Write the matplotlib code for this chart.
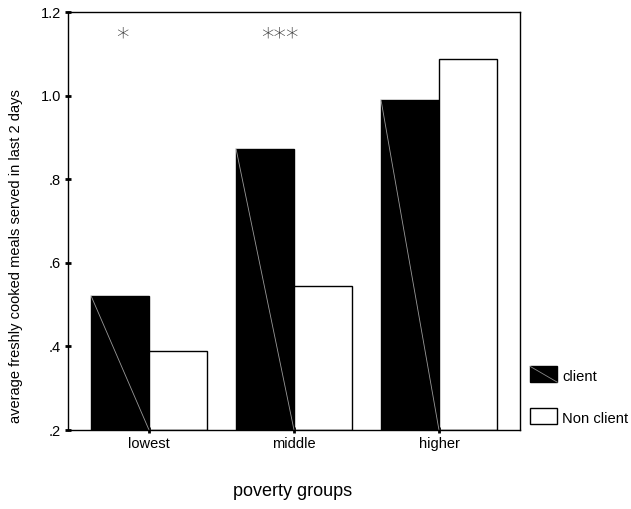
import matplotlib
matplotlib.use('Agg')
import matplotlib.pyplot as plt
import numpy as np
from matplotlib.patches import Rectangle
from matplotlib.lines import Line2D
from matplotlib.legend_handler import HandlerBase

plt.rcParams['font.family'] = ['Liberation Sans', 'DejaVu Sans']

# data
groups = ['lowest', 'middle', 'higher']
client = [0.521, 0.873, 0.990]
non_client = [0.390, 0.545, 1.088]
stars = ['*', '***', '']
star_y = 1.14
y_ticks = [0.2, 0.4, 0.6, 0.8, 1.0, 1.2]
y_tick_labels = ['.2', '.4', '.6', '.8', '1.0', '1.2']

base = 0.2
w = 0.4
x = np.arange(len(groups))


class BoxHandler(HandlerBase):
    # legend box, a bit lower than matplotlib puts it, black ones get the diagonal
    def __init__(self, diag):
        super().__init__()
        self.diag = diag

    def create_artists(self, legend, orig_handle, xd, yd, width, height, fontsize, trans):
        y0 = yd - 0.27 * height
        fc = 'black' if self.diag else 'white'
        r = Rectangle((xd, y0), width, height, facecolor=fc, edgecolor='black',
                      lw=1, transform=trans)
        out = [r]
        if self.diag:
            out.append(Line2D([xd, xd + width], [y0 + height, y0], color='#888888',
                              lw=0.6, transform=trans))
        return out


fig = plt.figure(figsize=(6.31, 5.09), dpi=100)
ax = fig.add_axes([68/631, 79/509, 452/631, 418/509])

ax.bar(x - w/2, np.array(client) - base, width=w, bottom=base, color='black',
       edgecolor='black', lw=1)
ax.bar(x + w/2, np.array(non_client) - base, width=w, bottom=base, color='white',
       edgecolor='black', lw=1)

# thin diagonal inside each client bar
for xi, v in zip(x, client):
    ax.plot([xi - w, xi], [v, base], color='#999999', lw=0.6)

for xi, s in zip(x, stars):
    if s:
        ax.text(xi - w/2 - 0.03, star_y, s, ha='left', va='center', fontsize=18,
                color='#333333', family='DejaVu Sans', fontweight='light')

ax.set_xlim(-0.559, 2.559)
ax.set_ylim(0.2, 1.2)
ax.set_yticks(y_ticks)
ax.set_yticklabels(y_tick_labels)
ax.set_xticks(x)
ax.set_xticklabels(groups)
ax.tick_params(direction='inout', length=4, width=2, labelsize=10.5, pad=3)
for s in ax.spines.values():
    s.set_linewidth(1)

ax.set_ylabel('average freshly cooked meals served in last 2 days', fontsize=10.5, va='center')
ax.yaxis.set_label_coords(-0.115, 0.416)
ax.set_xlabel('poverty groups', fontsize=13, va='center')
ax.xaxis.set_label_coords(0.496, -0.148)

h1 = Rectangle((0, 0), 1, 1, facecolor='black')
h2 = Rectangle((0, 0), 1, 1, facecolor='white', edgecolor='black', lw=1)
fig.legend([h1, h2], ['client', 'Non client'], loc='upper left',
           bbox_to_anchor=(530/631, 1 - 368/509), frameon=False, fontsize=10.6,
           handlelength=1.85, handleheight=1.28, labelspacing=1.78,
           handletextpad=0.35, borderpad=0, borderaxespad=0,
           handler_map={h1: BoxHandler(True), h2: BoxHandler(False)})

fig.savefig('out.png', dpi=100)
